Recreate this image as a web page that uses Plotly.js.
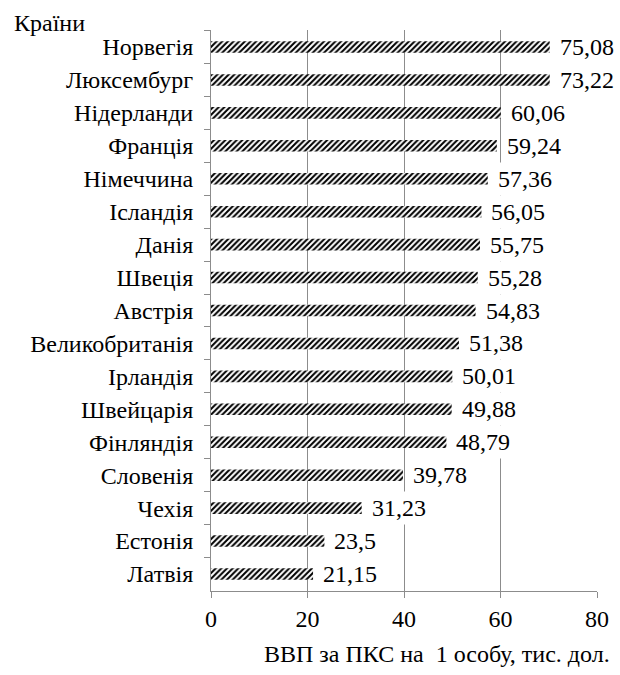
<!DOCTYPE html>
<html>
<head>
<meta charset="utf-8">
<script src="https://cdn.plot.ly/plotly-3.0.1.min.js"></script>
<style>
#chart text { font-family: "Liberation Serif", serif !important; }
</style>
</head>
<body style="margin:0">
<div id="chart"></div>
<script>
// Countries, top to bottom as in the reference
const countries = ["Норвегія","Люксембург","Нідерланди","Франція","Німеччина","Ісландія","Данія","Швеція","Австрія","Великобританія","Ірландія","Швейцарія","Фінляндія","Словенія","Чехія","Естонія","Латвія"];
// Data label values (ВВП за ПКС на 1 особу, тис. дол.)
const labels = [75.08,73.22,60.06,59.24,57.36,56.05,55.75,55.28,54.83,51.38,50.01,49.88,48.79,39.78,31.23,23.5,21.15];
// Bar lengths as drawn in the reference (top two bars are drawn truncated there)
const barLengths = [70.2,70.2,60.06,59.24,57.36,56.05,55.75,55.28,54.83,51.38,50.01,49.88,48.79,39.78,31.23,23.5,21.15];
const xTicks = [0,20,40,60,80];

const FS = 24;
const GRAY = "#8c8c8c";
const FAMILY = "Liberation Serif";
const serifFont = () => ({family: FAMILY, size: FS, color: "#000000"});

// warm up the serif font so it is active before Plotly draws and measures text
try {
  const cv = document.createElement("canvas");
  const ctx = cv.getContext("2d");
  ctx.font = FS + 'px "' + FAMILY + '"';
  ctx.fillText("Норвегія 75,08", 0, 20);
} catch (e) {}

function draw() {
  const trace = {
    type: "bar",
    orientation: "h",
    y: countries,
    x: barLengths,
    marker: {
      color: "white",
      line: {width: 0},
      pattern: {shape: "/", fgcolor: "black", bgcolor: "white", size: 4, solidity: 0.5}
    },
    hoverinfo: "none"
  };

  const annotations = countries.map((c, i) => ({
    x: barLengths[i], y: c, xref: "x", yref: "y",
    text: labels[i].toString().replace(".", ","),
    showarrow: false, xanchor: "left", yanchor: "middle", xshift: 6,
    bgcolor: "white", borderpad: 3,
    font: serifFont()
  }));
  annotations.push({
    x: -0.5155, y: 1.012, xref: "paper", yref: "paper",
    text: "Країни", showarrow: false, xanchor: "left", yanchor: "middle",
    font: serifFont()
  });
  annotations.push({
    x: 1.0389, y: -0.113, xref: "paper", yref: "paper",
    text: "ВВП за ПКС на \u00a01 особу, тис. дол.", showarrow: false, xanchor: "right", yanchor: "middle",
    font: serifFont()
  });

  const layout = {
    width: 620, height: 675,
    margin: {l: 211, r: 23, t: 30, b: 84},
    showlegend: false,
    bargap: 0.65,
    font: serifFont(),
    xaxis: {
      range: [0, 80], tickvals: xTicks, ticktext: xTicks.map(String),
      showgrid: true, gridcolor: GRAY, gridwidth: 1, zeroline: false,
      showline: true, linecolor: GRAY, linewidth: 1,
      ticks: "outside", ticklen: 6, tickcolor: GRAY,
      tickfont: serifFont()
    },
    yaxis: {
      type: "category", categoryorder: "array", categoryarray: countries,
      autorange: "reversed",
      showline: true, linecolor: GRAY, linewidth: 1,
      ticks: "outside", ticklen: 6, tickcolor: GRAY, tickson: "boundaries",
      showgrid: false, zeroline: false,
      ticklabelstandoff: 12,
      tickfont: serifFont()
    },
    annotations: annotations
  };

  Plotly.newPlot("chart", [trace], layout, {displayModeBar: false});
}

draw();
</script>
</body>
</html>
